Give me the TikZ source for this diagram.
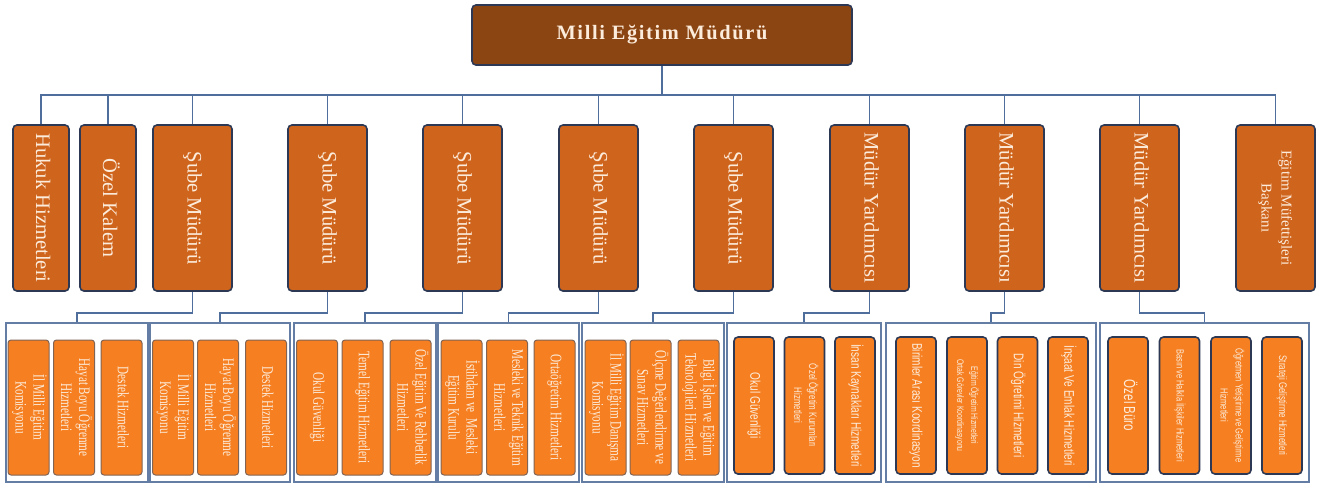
\documentclass[tikz,border=0pt]{standalone}
\usepackage{fontspec}
\usepackage{graphicx}
\setmainfont{Liberation Serif}
\newfontfamily\sansf{Liberation Sans}
\newfontfamily\topf[LetterSpace=8]{Liberation Serif}
\definecolor{topbrown}{RGB}{139,69,19}
\definecolor{navy}{RGB}{44,56,84}
\definecolor{ltwoorange}{RGB}{207,100,28}
\definecolor{cream}{RGB}{252,236,220}
\definecolor{inorange}{RGB}{246,128,33}
\definecolor{inbrown}{RGB}{130,100,85}
\definecolor{grpblue}{RGB}{100,125,165}
\definecolor{connblue}{RGB}{80,110,155}
\newcommand{\vlab}[2]{\rotatebox{-90}{\scalebox{#1}[1]{\begin{tabular}{@{}c@{}}#2\end{tabular}}}}
\tikzset{
  topbox/.style={draw=navy, line width=0.8pt, fill=topbrown, rounded corners=2pt,
    minimum width=190pt, minimum height=30pt, inner sep=0pt, text=cream,
    font=\topf\bfseries\fontsize{10.2}{12}\selectfont},
  lvtwo/.style={draw=navy, line width=0.8pt, fill=ltwoorange, rounded corners=2pt,
    minimum width=#1*0.5pt, minimum height=83pt, inner sep=0pt, text=cream,
    font=\fontsize{10.3}{12}\selectfont},
  grp/.style={draw=grpblue, line width=0.6pt, fill=white,
    minimum width=#1*0.5pt, minimum height=79.5pt, inner sep=0pt},
  inS/.style={fill=inorange, draw=inbrown, line width=0.5pt, rounded corners=1.5pt,
    minimum width=20.5pt, minimum height=67.5pt, inner sep=0pt, text=cream,
    font=\fontsize{8}{9}\selectfont},
  inA/.style={fill=inorange, draw=navy, line width=0.8pt, rounded corners=2pt,
    minimum width=20pt, minimum height=68.5pt, inner sep=0pt, text=cream,
    font=\sansf},
  conn/.style={draw=connblue, line width=0.75pt}
}
\begin{document}
\begin{tikzpicture}[x=0.5pt, y=-0.5pt]
\fill[white] (0,0) rectangle (1333,484);
\useasboundingbox (0,0) rectangle (1333,484);
\coordinate (bus) at (0,95);
\coordinate (m) at (0,313);

% top
\node[topbox] (top) at (662,35) {Milli Eğitim Müdürü};

% level 2
\node[lvtwo=56] (h1) at (41,208) {\vlab{1}{Hukuk Hizmetleri}};
\node[lvtwo=56] (h2) at (108,208) {\vlab{1}{Özel Kalem}};
\node[lvtwo=79] (h3) at (192.5,208) {\vlab{1}{Şube Müdürü}};
\node[lvtwo=79] (h4) at (327.5,208) {\vlab{1}{Şube Müdürü}};
\node[lvtwo=79] (h5) at (462.5,208) {\vlab{1}{Şube Müdürü}};
\node[lvtwo=79] (h6) at (598.5,208) {\vlab{1}{Şube Müdürü}};
\node[lvtwo=79] (h7) at (733.5,208) {\vlab{1}{Şube Müdürü}};
\node[lvtwo=79] (h8) at (869.5,208) {\vlab{1}{Müdür Yardımcısı}};
\node[lvtwo=79] (h9) at (1004.5,208) {\vlab{1}{Müdür Yardımcısı}};
\node[lvtwo=79] (h10) at (1139.5,208) {\vlab{1}{Müdür Yardımcısı}};
\node[lvtwo=79] (h11) at (1275.5,208) {\fontsize{7.5}{10}\selectfont\vlab{1}{Eğitim Müfettişleri\\Başkanı}};

\foreach \h in {h1,h2,h3,h4,h5,h6,h7,h8,h9,h10,h11}
  \draw[conn] (top.south) -- (top.south |- bus) -| (\h.north);

% groups
\node[grp=142] (g1) at (77,402.5) {};
\node[grp=140] (g2) at (220,402.5) {};
\node[grp=142] (g3) at (365,402.5) {};
\node[grp=141] (g4) at (508.5,402.5) {};
\node[grp=142] (g5) at (653,402.5) {};
\node[grp=154] (g6) at (804,402.5) {};
\node[grp=210] (g7) at (991,402.5) {};
\node[grp=209] (g8) at (1204.5,402.5) {};

\draw[conn] (h3.south) -- (h3.south |- m) -| (g1.north);
\draw[conn] (h4.south) -- (h4.south |- m) -| (g2.north);
\draw[conn] (h5.south) -- (h5.south |- m) -| (g3.north);
\draw[conn] (h6.south) -- (h6.south |- m) -| (g4.north);
\draw[conn] (h7.south) -- (h7.south |- m) -| (g5.north);
\draw[conn] (h8.south) -- (h8.south |- m) -| (g6.north);
\draw[conn] (h9.south) -- (h9.south |- m) -| (g7.north);
\draw[conn] (h10.south) -- (h10.south |- m) -| (g8.north);

% group 1
\node[inS] (a1) at (28.5,407.5) {\vlab{0.7}{İl Milli Eğitim\\Komisyonu}};
\node[inS] (a2) at (74,407.5) {\vlab{0.7}{Hayat Boyu Öğrenme\\Hizmetleri}};
\node[inS] (a3) at (121.5,407.5) {\vlab{0.7}{Destek Hizmetleri}};
% group 2
\node[inS] (b1) at (173,407.5) {\vlab{0.7}{İl Milli Eğitim\\Komisyonu}};
\node[inS] (b2) at (218,407.5) {\vlab{0.7}{Hayat Boyu Öğrenme\\Hizmetleri}};
\node[inS] (b3) at (266,407.5) {\vlab{0.7}{Destek Hizmetleri}};
% group 3
\node[inS] (c1) at (317,407.5) {\vlab{0.7}{Okul Güvenliği}};
\node[inS] (c2) at (362.5,407.5) {\vlab{0.7}{Temel Eğitim Hizmetleri}};
\node[inS] (c3) at (410.5,407.5) {\vlab{0.7}{Özel Eğitim Ve Rehberlik\\Hizmetleri}};
% group 4
\node[inS] (d1) at (461.5,407.5) {\vlab{0.7}{İstihdam ve\ \ Mesleki\\Eğitim Kurulu}};
\node[inS] (d2) at (507,407.5) {\vlab{0.7}{Mesleki ve Teknik Eğitim\\Hizmetleri}};
\node[inS] (d3) at (554.5,407.5) {\vlab{0.7}{Ortaöğretim Hizmetleri}};
% group 5
\node[inS] (e1) at (605.5,407.5) {\vlab{0.7}{İl Milli Eğitim Danışma\\Komisyonu}};
\node[inS] (e2) at (650.5,407.5) {\vlab{0.7}{Ölçme Değerlendirme ve\\Sınav Hizmetleri}};
\node[inS] (e3) at (698.5,407.5) {\vlab{0.7}{Bilgi İşlem ve Eğitim\\Teknolojileri Hizmetleri}};
% group 6
\node[inA] (f1) at (754,405.5) {\fontsize{7}{9}\selectfont\vlab{0.72}{Okul Güvenliği}};
\node[inA] (f2) at (804.5,405.5) {\fontsize{5.5}{7.5}\selectfont\vlab{0.72}{Özel Öğretim Kurumları\\Hizmetleri}};
\node[inA] (f3) at (855,405.5) {\fontsize{7}{9}\selectfont\vlab{0.72}{İnsan Kaynakları Hizmetleri}};
% group 7
\node[inA] (k1) at (916,405.5) {\fontsize{7}{9}\selectfont\vlab{0.72}{Birimler Arası Koordinasyon}};
\node[inA] (k2) at (967,405.5) {\fontsize{4.75}{7}\selectfont\vlab{0.72}{Eğitim Öğretim Hizmetleri\\Ortak Görevler Koordinasyonu}};
\node[inA] (k3) at (1017.5,405.5) {\fontsize{7}{9}\selectfont\vlab{0.72}{Din Öğretimi Hizmetleri}};
\node[inA] (k4) at (1068,405.5) {\fontsize{7}{9}\selectfont\vlab{0.72}{İnşaat Ve Emlak Hizmetleri}};
% group 8
\node[inA] (p1) at (1128,405.5) {\fontsize{8}{10}\selectfont\vlab{0.72}{Özel Büro}};
\node[inA] (p2) at (1179.5,405.5) {\fontsize{5.2}{7}\selectfont\vlab{0.72}{Basın ve Halkla İlişkiler Hizmetleri}};
\node[inA] (p3) at (1231,405.5) {\fontsize{5.2}{7.5}\selectfont\vlab{0.72}{Öğretmen Yetiştirme ve Geliştirme\\Hizmetleri}};
\node[inA] (p4) at (1282,405.5) {\fontsize{5.5}{7.5}\selectfont\vlab{0.72}{Strateji Geliştirme Hizmetleri}};
\end{tikzpicture}
\end{document}
